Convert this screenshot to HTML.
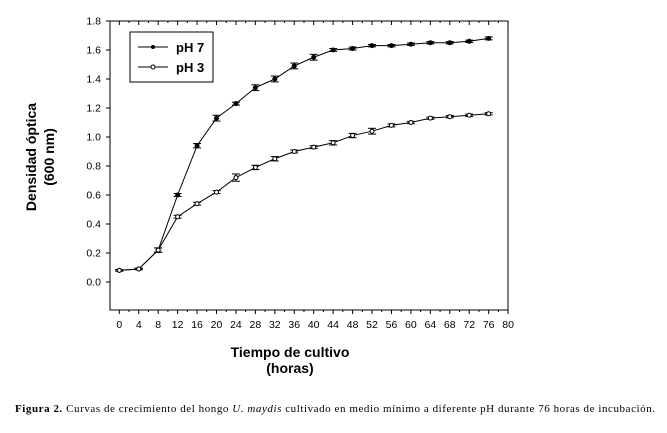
<!DOCTYPE html>
<html><head><style>body{margin:0;background:#fff;}svg{display:block}</style></head><body>
<svg width="667" height="433" viewBox="0 0 667 433" xmlns="http://www.w3.org/2000/svg">
<rect width="667" height="433" fill="#fff"/>
<g font-family="Liberation Sans, sans-serif" font-size="10.5" fill="#000">
<rect x="110" y="21" width="398" height="289" fill="none" stroke="#000" stroke-width="1"/>
<g id="ticks" stroke="#000" stroke-width="1"></g>
<g id="yl" text-anchor="end"></g>
<g id="xl" text-anchor="middle"></g>
<g id="series" stroke="#000" stroke-width="1" fill="none"></g>
<rect x="130" y="32" width="83" height="50" fill="#fff" stroke="#000"/>
<line x1="138" y1="47" x2="168" y2="47" stroke="#000"/><circle cx="153" cy="47" r="2" fill="#000"/>
<line x1="138" y1="67" x2="168" y2="67" stroke="#000"/><circle cx="153" cy="67" r="2" fill="#fff" stroke="#000"/>
<text x="176" y="52" font-size="13" font-weight="bold">pH 7</text>
<text x="176" y="72" font-size="13" font-weight="bold">pH 3</text>
<text transform="translate(36,157) rotate(-90)" text-anchor="middle" font-size="14" font-weight="bold">Densidad óptica</text>
<text transform="translate(54,157) rotate(-90)" text-anchor="middle" font-size="14" font-weight="bold">(600 nm)</text>
<text x="290" y="357" text-anchor="middle" font-size="14" font-weight="bold">Tiempo de cultivo</text>
<text x="290" y="373" text-anchor="middle" font-size="14" font-weight="bold">(horas)</text>
</g>
<text x="335" y="412" text-anchor="middle" font-family="Liberation Serif, serif" font-size="11" textLength="640" lengthAdjust="spacing"><tspan font-weight="bold">Figura 2.</tspan> Curvas de crecimiento del hongo <tspan font-style="italic">U. maydis</tspan> cultivado en medio mínimo a diferente pH durante 76 horas de incubación.</text>
<script>
const X=h=>119.3+h*4.86, Y=v=>282-145*v, ns="http://www.w3.org/2000/svg";
function el(p,t,a,txt){const e=document.createElementNS(ns,t);for(const k in a)e.setAttribute(k,a[k]);if(txt!==undefined)e.textContent=txt;document.getElementById(p).appendChild(e);return e;}
for(let h=0;h<=80;h+=2){const big=h%4==0;el("ticks","line",{x1:X(h),x2:X(h),y1:310,y2:310+(big?4:2)});el("ticks","line",{x1:X(h),x2:X(h),y1:21,y2:21+(big?4:2)});if(big)el("xl","text",{x:X(h),y:328},String(h));}
for(let i=0;i<=9;i++){const v=i*0.2;el("ticks","line",{x1:106,x2:110,y1:Y(v),y2:Y(v)});el("yl","text",{x:101,y:Y(v)+3.5},v.toFixed(1));}
const p7=[.08,.09,.22,.60,.94,1.13,1.23,1.34,1.40,1.49,1.55,1.60,1.61,1.63,1.63,1.64,1.65,1.65,1.66,1.68];
const p3=[.08,.09,.22,.45,.54,.62,.72,.79,.85,.90,.93,.96,1.01,1.04,1.08,1.10,1.13,1.14,1.15,1.16];
const e7=[.005,.005,.015,.01,.015,.02,.01,.02,.02,.02,.02,.01,.01,.008,.008,.008,.008,.008,.008,.01];
const e3=[.005,.005,.015,.01,.01,.01,.025,.015,.015,.01,.01,.015,.015,.02,.01,.008,.008,.008,.008,.008];
[[p7,e7,"#000"],[p3,e3,"#fff"]].forEach(([d,e,f])=>{
 el("series","polyline",{points:d.map((v,i)=>X(i*4)+","+Y(v)).join(" ")});
 d.forEach((v,i)=>{const x=X(i*4),a=Y(v+e[i]),b=Y(v-e[i]);
  el("series","line",{x1:x,x2:x,y1:a,y2:b});el("series","line",{x1:x-4,x2:x+4,y1:a,y2:a});el("series","line",{x1:x-4,x2:x+4,y1:b,y2:b});
  el("series","circle",{cx:x,cy:Y(v),r:2,fill:f});});
});
</script>
</svg>
</body></html>
